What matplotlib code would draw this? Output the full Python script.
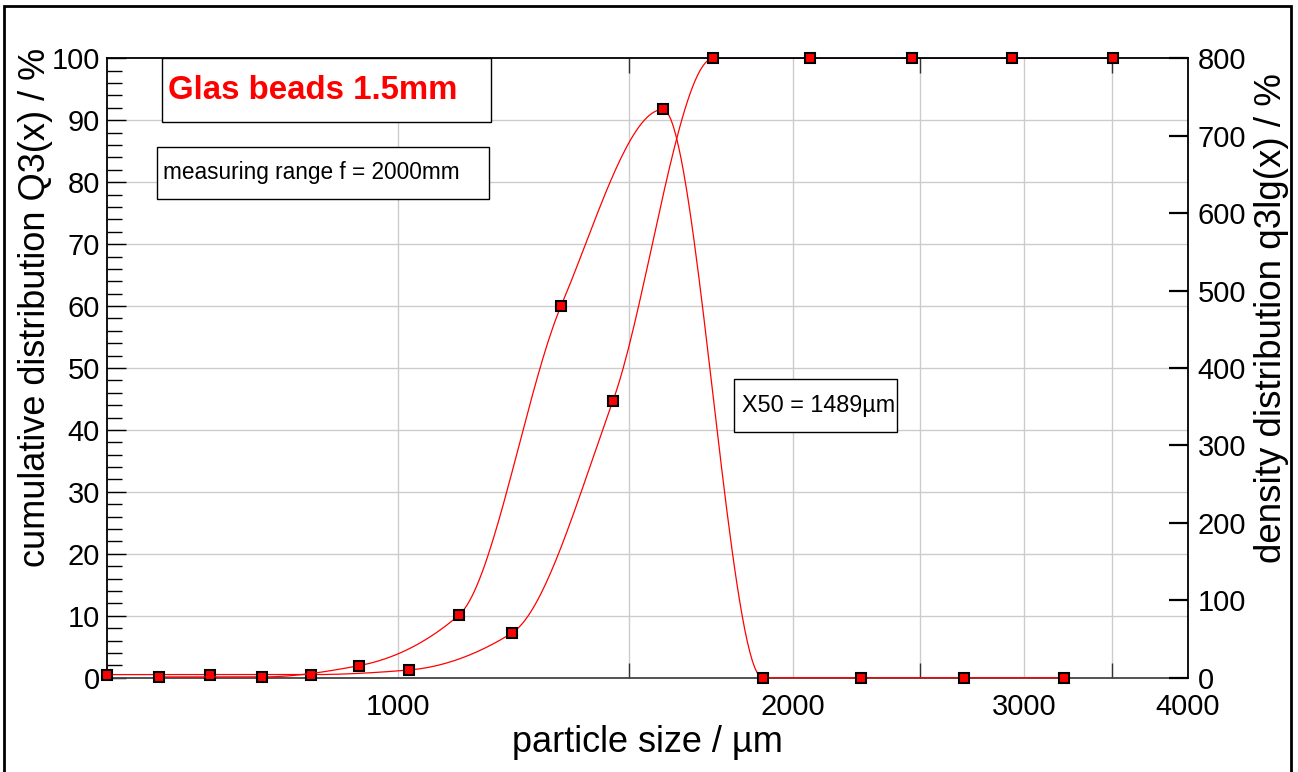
import numpy as np
import matplotlib
matplotlib.use("Agg")
import matplotlib.pyplot as plt
from matplotlib.patches import Rectangle

plt.rcParams['font.family'] = ['Liberation Sans', 'DejaVu Sans']

# 1. data
# cumulative distribution Q3(x) in % (left axis)
q3_size = [600, 719, 859, 1020, 1221, 1458, 1739, 2059, 2465, 2938, 3506]
q3_value = [0.5, 0.5, 0.5, 1.25, 7.2, 44.7, 100, 100, 100, 100, 100]

# density distribution q3lg(x) in % (right axis)
q3lg_size = [657, 788, 934, 1113, 1331, 1592, 1896, 2254, 2699, 3215]
q3lg_value = [1, 1, 15.6, 81, 480, 734, 0, 0, 0, 0]

x_ticks = [1000, 2000, 3000, 4000]
x_tick_labels = ['1000', '2000', '3000', '4000']
x_minor = [1500, 2000, 2500, 3000, 3500]
x_grid = [1000, 1500, 2000, 2500, 3000, 3500, 4000]

title_text = 'Glas beads 1.5mm'
range_text = 'measuring range f = 2000mm'
x50_text = 'X50 = 1489µm'


def smooth_line(xs, ys, n=40):
    # monotone cubic (Fritsch-Carlson) through the points, in log x
    t = np.log10(np.asarray(xs, float))
    y = np.asarray(ys, float)
    h = np.diff(t)
    d = np.diff(y) / h
    m = np.zeros_like(y)
    m[0], m[-1] = d[0], d[-1]
    for i in range(1, len(y) - 1):
        if d[i - 1] * d[i] > 0:
            w1 = 2 * h[i] + h[i - 1]
            w2 = h[i] + 2 * h[i - 1]
            m[i] = (w1 + w2) / (w1 / d[i - 1] + w2 / d[i])
    out_t, out_y = [], []
    for i in range(len(h)):
        s = np.linspace(0, 1, n)
        h00 = 2 * s**3 - 3 * s**2 + 1
        h10 = s**3 - 2 * s**2 + s
        h01 = -2 * s**3 + 3 * s**2
        h11 = s**3 - s**2
        out_t.append(t[i] + s * h[i])
        out_y.append(h00 * y[i] + h10 * h[i] * m[i] + h01 * y[i + 1] + h11 * h[i] * m[i + 1])
    return 10 ** np.concatenate(out_t), np.concatenate(out_y)


# 2. figure / axes
fig = plt.figure(figsize=(12.98, 7.72), dpi=100)
ax1 = fig.add_axes([107 / 1298, 1 - 677.7 / 772, 1081 / 1298, 619.4 / 772])
ax2 = ax1.twinx()

ax1.set_xscale('log')
ax1.set_xlim(600, 4000)
ax1.set_ylim(0, 100)
ax2.set_ylim(0, 800)

# grid
ax1.set_axisbelow(True)
for gx in x_grid:
    ax1.axvline(gx, color='#cccccc', lw=1.0, zorder=0)
for gy in range(10, 100, 10):
    ax1.axhline(gy, color='#cccccc', lw=1.0, zorder=0)

# x ticks
ax1.set_xticks(x_ticks, labels=x_tick_labels)
ax1.set_xticks(x_minor, minor=True)
ax1.xaxis.set_minor_formatter(matplotlib.ticker.NullFormatter())
ax1.tick_params(axis='x', which='major', length=0, pad=11, labelsize=21)
ax1.tick_params(axis='x', which='minor', direction='in', length=11, width=1,
                top=True, bottom=True, color='#333333')

# left y ticks
ax1.set_yticks(range(0, 101, 10))
ax1.set_yticks(np.arange(0, 101, 2), minor=True)
ax1.tick_params(axis='y', which='major', direction='in', length=13.5, width=1, pad=5, labelsize=21)
ax1.tick_params(axis='y', which='minor', direction='in', length=10.8, width=1)

# right y ticks
ax2.set_yticks(range(0, 801, 100))
ax2.tick_params(axis='y', direction='in', length=13.7, width=1.6, pad=7, labelsize=21)

for sp in ['top', 'bottom', 'left']:
    ax2.spines[sp].set_visible(False)
ax2.spines['right'].set_linewidth(1.3)
ax1.spines['left'].set_linewidth(1.3)
ax1.spines['top'].set_linewidth(1.3)
ax1.spines['bottom'].set_linewidth(1.3)
ax1.spines['bottom'].set_color('#444444')
ax1.spines['right'].set_visible(False)

# 3. curves and markers
cx, cy = smooth_line(q3_size, q3_value)
ax1.plot(cx, cy, color='red', lw=0.9, zorder=2)
ax1.plot(q3_size, q3_value, ls='none', marker='s', ms=7.4, mfc='red', mec='black',
         mew=1.5, zorder=5, clip_on=False)

dx, dy = smooth_line(q3lg_size, q3lg_value)
ax2.plot(dx, dy, color='red', lw=0.9, zorder=2, clip_on=False)
ax2.plot(q3lg_size, q3lg_value, ls='none', marker='s', ms=7.4, mfc='red', mec='black',
         mew=1.5, zorder=5, clip_on=False)

# axis labels
ax1.set_xlabel('particle size / µm', fontsize=26, labelpad=3)
ax1.set_ylabel('cumulative distribution Q3(x) / %', fontsize=26)
ax1.yaxis.set_label_coords(-0.05, 0.598)
ax2.set_ylabel('density distribution q3lg(x) / %', fontsize=26.5)
ax2.yaxis.set_label_coords(1.061, 0.58)

# 4. text boxes
boxes = [
    (0.0509, 0.897, 0.3043, 0.103),
    (0.0463, 0.7728, 0.3071, 0.084),
    (0.580, 0.3967, 0.1508, 0.0855),
]
for bx, by, bw, bh in boxes:
    ax2.add_patch(Rectangle((bx, by), bw, bh, transform=ax2.transAxes, facecolor='white',
                            edgecolor='black', lw=1.0, zorder=6, clip_on=False))
ax2.text(0.0565, 0.9485, title_text, transform=ax2.transAxes, color='red', fontsize=23.8,
         fontweight='bold', ha='left', va='center', zorder=7)
ax2.text(0.0515, 0.815, range_text, transform=ax2.transAxes, fontsize=16.3,
         ha='left', va='center', zorder=7)
ax2.text(0.5875, 0.4395, x50_text, transform=ax2.transAxes, fontsize=16.8,
         ha='left', va='center', zorder=7)

# figure frame
fig.patches.append(Rectangle((4 / 1298, -0.05), 1287 / 1298, 1.05 - 6 / 772, transform=fig.transFigure,
                             fill=False, edgecolor='black', lw=2))

fig.savefig('out.png', dpi=100)
